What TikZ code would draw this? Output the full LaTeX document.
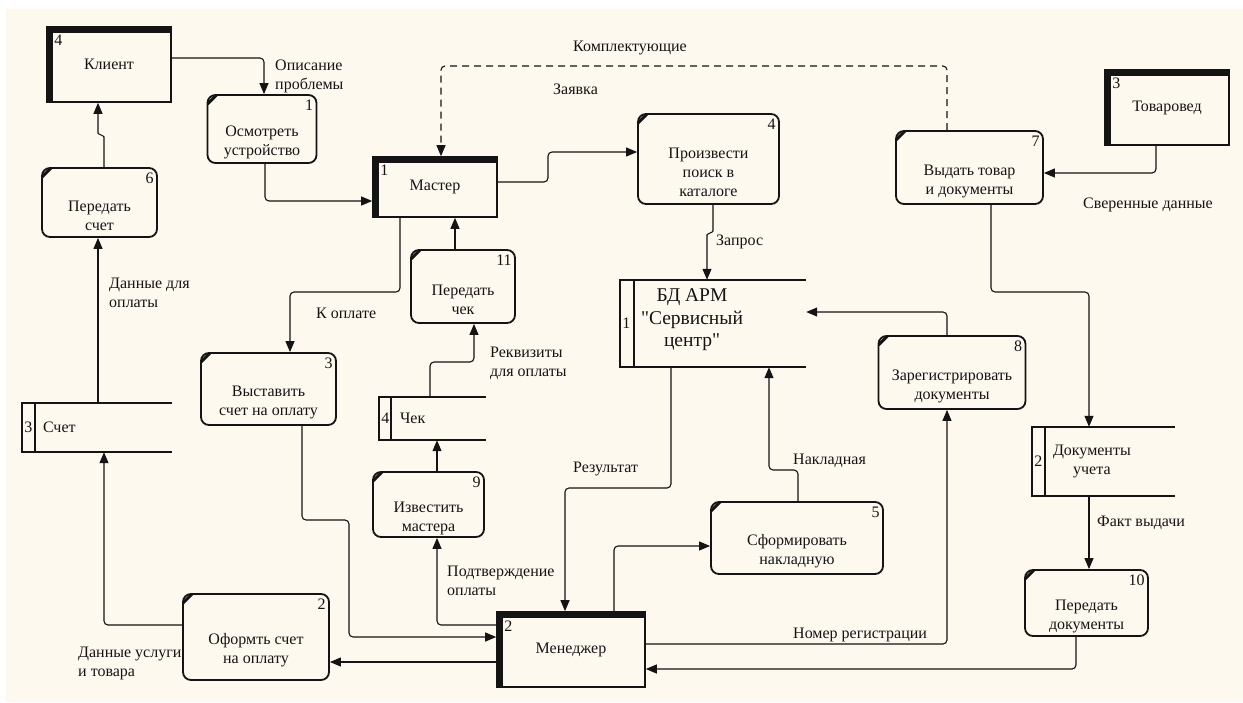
\documentclass[tikz,border=0pt]{standalone}
\usepackage{fontspec}
\setmainfont{Liberation Serif}
\newfontfamily\dfdserif{Liberation Serif}
\newfontfamily\dbserif{Liberation Serif}[Ligatures=TeXOff]
\usetikzlibrary{arrows.meta}
\definecolor{bgc}{RGB}{254,249,238}
\definecolor{ink}{RGB}{20,20,20}
\newcommand\dfdfont{\dfdserif\fontsize{16}{19}\selectfont}
\newcommand\dbfont{\dbserif\fontsize{19.5}{22.5}\selectfont}
\tikzset{
  proc/.style={draw=ink, line width=1.8pt, rounded corners=8pt, inner sep=0pt,
    path picture={\draw[ink, line width=3pt] ([xshift=0pt,yshift=-9pt]path picture bounding box.north west) -- ([xshift=9pt,yshift=0pt]path picture bounding box.north west);}},
  pnum/.style={label={[anchor=north east, inner sep=0pt, xshift=-4pt, yshift=-6pt, font=\dfdfont, text=ink]north east:#1}},
  ptxt/.style={label={[align=center, inner sep=0pt, yshift=-13.5pt, font=\dfdfont, text=ink]center:#1}},
  ent/.style={draw=ink, line width=1.6pt, inner sep=0pt, font=\dfdfont, text=ink,
    path picture={\fill[ink] (path picture bounding box.north west) rectangle ([xshift=6pt]path picture bounding box.south west);
                  \fill[ink] (path picture bounding box.north west) rectangle ([yshift=-6pt]path picture bounding box.north east);}},
  enum/.style={label={[anchor=north west, inner sep=0pt, xshift=8pt, yshift=-9pt, font=\dfdfont, text=ink]north west:#1}},
  store/.style={inner sep=0pt},
  snum/.style={label={[anchor=center, inner sep=0pt, xshift=6.5pt, font=\dfdfont, text=ink]west:#1}},
  stxt/.style={label={[anchor=west, align=center, inner sep=0pt, xshift=21pt, font=\dfdfont, text=ink]west:#1}},
  sl/.style={draw=ink, line width=1.8pt, line join=miter},
  flow/.style={draw=ink, line width=1.1pt, rounded corners=4pt, -{Triangle[length=11pt,width=9pt]}},
  dflow/.style={flow, dash pattern=on 7pt off 5pt},
  lbl/.style={font=\dfdfont, text=ink, inner sep=0pt, anchor=west, align=left}
}
\begin{document}
\begin{tikzpicture}[x=1pt, y=-1pt]
\useasboundingbox (0,0) rectangle (1243,702);
\fill[white] (0,0) rectangle (1243,702);
\fill[bgc] (6,9) rectangle (1243,702);

% external entities
\node[ent, minimum width=124pt, minimum height=75pt, enum=4] (kl) at (109,64.5) {Клиент};
\node[ent, minimum width=124pt, minimum height=60pt, enum=1] (ma) at (435,187) {\raisebox{-3pt}{Мастер}};
\node[ent, minimum width=124pt, minimum height=75pt, enum=3] (tv) at (1167,107.5) {Товаровед};
\node[ent, minimum width=148pt, minimum height=75pt, enum=2] (mg) at (571,649.5) {Менеджер};

% processes
\node[proc, minimum width=109pt, minimum height=68pt, pnum=1, ptxt={Осмотреть\\устройство}] (p1) at (262,129) {};
\node[proc, minimum width=115pt, minimum height=69pt, pnum=6, ptxt={Передать\\счет}] (p6) at (99.5,202.5) {};
\node[proc, minimum width=141pt, minimum height=90pt, pnum=4, ptxt={Произвести\\поиск в\\каталоге}] (p4) at (708.5,159) {};
\node[proc, minimum width=147pt, minimum height=73pt, pnum=7, ptxt={Выдать товар\\и документы}] (p7) at (969.5,167.5) {};
\node[proc, minimum width=104pt, minimum height=73pt, pnum=11, ptxt={Передать\\чек}] (p11) at (463,286.5) {};
\node[proc, minimum width=147pt, minimum height=73pt, pnum=8, ptxt={Зарегистрировать\\документы}] (p8) at (952,372.5) {};
\node[proc, minimum width=135pt, minimum height=72pt, pnum=3, ptxt={Выставить\\счет на оплату}] (p3) at (268.5,389) {};
\node[proc, minimum width=111pt, minimum height=65pt, pnum=9, ptxt={Известить\\мастера}] (p9) at (428.5,504.5) {};
\node[proc, minimum width=172pt, minimum height=72pt, pnum=5, ptxt={Сформировать\\накладную}] (p5) at (797,538) {};
\node[proc, minimum width=146pt, minimum height=86pt, pnum=2, ptxt={Оформть счет\\на оплату}] (p2) at (256,637) {};
\node[proc, minimum width=123pt, minimum height=66pt, pnum=10, ptxt={Передать\\документы}] (p10) at (1086.5,603) {};

% data stores
\node[store, minimum width=150pt, minimum height=49pt, snum=3, stxt={Счет}] (s3) at (97,427.5) {};
\node[store, minimum width=107pt, minimum height=43pt, snum=4, stxt={Чек}] (s4) at (432.5,418.5) {};
\node[store, minimum width=143pt, minimum height=69pt, snum=2, stxt={Документы\\учета}] (s2) at (1103.5,461.5) {};
\node[store, minimum width=186pt, minimum height=87pt, snum=1] (db) at (713,323.5) {};
\node[font=\dbfont, text=ink, align=center, inner sep=0pt] (dbt) at (692,320) {БД АРМ\\"Сервисный\\центр"};
\foreach \s/\d in {s3/13, s4/12, s2/13, db/14}{
  \draw[sl] (\s.north east) -- (\s.north west) -- (\s.south west) -- (\s.south east);
  \draw[sl] ([xshift=\d pt]\s.north west) -- ([xshift=\d pt]\s.south west);
}

% flows
\draw[flow] (kl.east |- 0,58) -| (264,0 |- p1.north);
\draw[flow] (265,0 |- p1.south) |- (ma.west |- 0,201);
\draw[flow] (104,0 |- p6.north) -- (104,141) to[out=90,in=-90] (98,129) -- (98,0 |- kl.south);
\draw[flow] (98,0 |- s3.north) -- (98,0 |- p6.south);
\draw[flow] (p2.west |- 0,625) -| (104,0 |- s3.south);
\draw[flow] (400,0 |- ma.south) -- (400,292) -- (290,292) -- (290,0 |- p3.north);
\draw[flow] (302,0 |- p3.south) -- (302,520) -- (349,520) -- (349,637) -- (mg.west |- 0,637);
\draw[flow] (mg.west |- 0,662) -- (p2.east |- 0,662);
\draw[flow] (mg.west |- 0,625) -| (437,0 |- p9.south);
\draw[flow] (437,0 |- p9.north) -- (437,0 |- s4.south);
\draw[flow] (430,0 |- s4.north) -- (430,362) -| (474,0 |- p11.south);
\draw[flow] (455,0 |- p11.north) -- (455,0 |- ma.south);
\draw[flow] (ma.east |- 0,182) -| (548,167) |- (p4.west |- 0,152);
\draw[dflow] (947,0 |- p7.north) -- (947,66) -- (441,66) -- (441,0 |- ma.north);
\draw[flow] (713,0 |- p4.south) -- (713,227) to[out=-90,in=90] (707,239) -- (707,0 |- db.north);
\draw[flow] (1156,0 |- tv.south) |- (p7.east |- 0,173);
\draw[flow] (991,0 |- p7.south) -- (991,292) -| (1089,0 |- s2.north);
\draw[flow] (947,0 |- p8.north) |- (db.east |- 0,312);
\draw[flow] (1089,0 |- s2.south) -- (1089,0 |- p10.north);
\draw[flow] (1076,0 |- p10.south) |- (mg.east |- 0,669);
\draw[flow] (mg.east |- 0,644) -| (947,0 |- p8.south);
\draw[flow] (614,0 |- mg.north) |- (p5.west |- 0,546);
\draw[flow] (798,0 |- p5.north) -- (798,470) -| (769,0 |- db.south);
\draw[flow] (671,0 |- db.south) -- (671,488) -| (565,0 |- mg.north);

% flow labels
\node[lbl] (l1) at (275,76) {Описание\\проблемы};
\node[lbl] (l2) at (109,293) {Данные для\\оплаты};
\node[lbl] (l3) at (78,663) {Данные услуги\\и товара};
\node[lbl] (l4) at (316,313) {К оплате};
\node[lbl] (l5) at (447,581) {Подтверждение\\оплаты};
\node[lbl] (l6) at (490,363) {Реквизиты\\для оплаты};
\node[lbl] (l7) at (553,89) {Заявка};
\node[lbl] (l8) at (573,48) {Комплектующие};
\node[lbl] (l9) at (716,242) {Запрос};
\node[lbl] (l10) at (1083,205) {Сверенные данные};
\node[lbl] (l11) at (1097,523) {Факт выдачи};
\node[lbl] (l12) at (793,635) {Номер регистрации};
\node[lbl] (l13) at (573,469) {Результат};
\node[lbl] (l14) at (793,461) {Накладная};
\end{tikzpicture}
\end{document}
